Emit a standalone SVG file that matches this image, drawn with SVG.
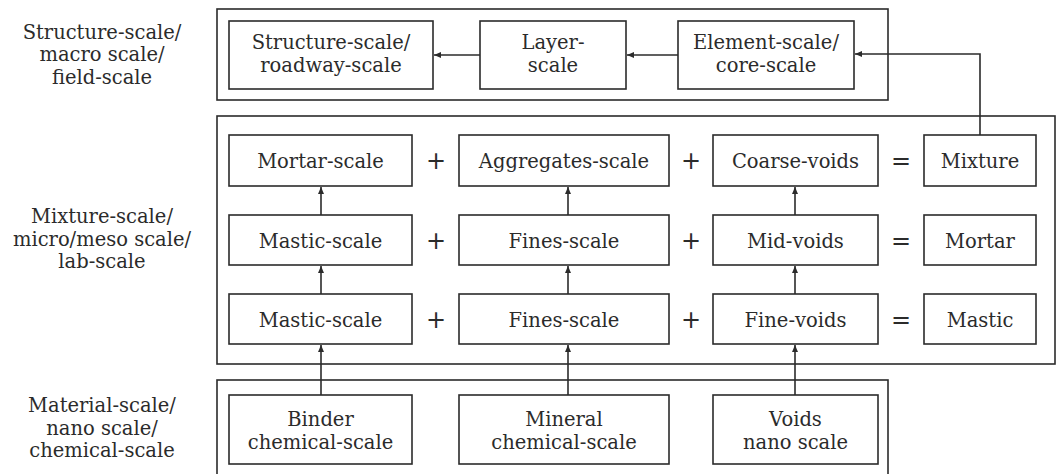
<svg xmlns="http://www.w3.org/2000/svg" width="1057" height="474" viewBox="0 0 1057 474">
<defs>
<marker id="ah" markerWidth="8" markerHeight="8" refX="7" refY="4" orient="auto" markerUnits="userSpaceOnUse">
<path d="M0,1 L7,4 L0,7 Z" fill="#2b2b2b"/>
</marker>
</defs>
<style>
.frame{fill:none;stroke:#2b2b2b;stroke-width:1.6}
.box{fill:#fff;stroke:#2b2b2b;stroke-width:1.6}
text{font-family:"DejaVu Serif","Liberation Serif",serif;font-size:19.5px;fill:#2b2b2b;text-anchor:middle}
.op{font-family:"DejaVu Sans","Liberation Sans",sans-serif;font-size:24px}
.conn{fill:none;stroke:#2b2b2b;stroke-width:1.6;marker-end:url(#ah)}
</style>
<rect width="1057" height="474" fill="#fff"/>
<g id="frames">
<rect class="frame" x="217" y="9" width="671" height="91"/>
<rect class="frame" x="217" y="116" width="838" height="248"/>
<rect class="frame" x="217" y="380" width="671" height="100"/>
</g>
<g id="scale-labels">
<text x="102" y="39">Structure-scale/</text>
<text x="102" y="61">macro scale/</text>
<text x="102" y="84">field-scale</text>
<text x="102" y="223">Mixture-scale/</text>
<text x="102" y="246">micro/meso scale/</text>
<text x="102" y="268">lab-scale</text>
<text x="102" y="412">Material-scale/</text>
<text x="102" y="435">nano scale/</text>
<text x="102" y="457">chemical-scale</text>
</g>
<g id="connectors">
<line class="conn" x1="480" y1="55" x2="434" y2="55"/>
<line class="conn" x1="678" y1="55" x2="627" y2="55"/>
<polyline class="conn" points="980,135 980,54 855,54"/>
<line class="conn" x1="321" y1="215" x2="321" y2="187"/>
<line class="conn" x1="568" y1="215" x2="568" y2="187"/>
<line class="conn" x1="795" y1="215" x2="795" y2="187"/>
<line class="conn" x1="321" y1="294" x2="321" y2="266"/>
<line class="conn" x1="568" y1="294" x2="568" y2="266"/>
<line class="conn" x1="795" y1="294" x2="795" y2="266"/>
<line class="conn" x1="321" y1="395" x2="321" y2="345"/>
<line class="conn" x1="568" y1="395" x2="568" y2="345"/>
<line class="conn" x1="795" y1="395" x2="795" y2="345"/>
</g>
<g id="n-structure"><rect class="box" x="229" y="21" width="204" height="68"/><text x="331" y="49">Structure-scale/</text><text x="331" y="72">roadway-scale</text></g>
<g id="n-layer"><rect class="box" x="480" y="21" width="146" height="68"/><text x="553" y="49">Layer-</text><text x="553" y="72">scale</text></g>
<g id="n-element"><rect class="box" x="678" y="21" width="176" height="68"/><text x="766" y="49">Element-scale/</text><text x="766" y="72">core-scale</text></g>

<g id="n-mortar-scale"><rect class="box" x="229" y="135" width="183" height="51"/><text x="320.5" y="168">Mortar-scale</text></g>
<g id="n-aggregates-scale"><rect class="box" x="459" y="135" width="210" height="51"/><text x="564" y="168">Aggregates-scale</text></g>
<g id="n-coarse-voids"><rect class="box" x="713" y="135" width="165" height="51"/><text x="795.5" y="168">Coarse-voids</text></g>
<g id="n-mixture"><rect class="box" x="924" y="135" width="112" height="51"/><text x="980" y="168">Mixture</text></g>

<g id="n-mastic-scale-1"><rect class="box" x="229" y="215" width="183" height="50"/><text x="320.5" y="248">Mastic-scale</text></g>
<g id="n-fines-scale-1"><rect class="box" x="459" y="215" width="210" height="50"/><text x="564" y="248">Fines-scale</text></g>
<g id="n-mid-voids"><rect class="box" x="713" y="215" width="165" height="50"/><text x="795.5" y="248">Mid-voids</text></g>
<g id="n-mortar"><rect class="box" x="924" y="215" width="112" height="50"/><text x="980" y="248">Mortar</text></g>

<g id="n-mastic-scale-2"><rect class="box" x="229" y="294" width="183" height="50"/><text x="320.5" y="327">Mastic-scale</text></g>
<g id="n-fines-scale-2"><rect class="box" x="459" y="294" width="210" height="50"/><text x="564" y="327">Fines-scale</text></g>
<g id="n-fine-voids"><rect class="box" x="713" y="294" width="165" height="50"/><text x="795.5" y="327">Fine-voids</text></g>
<g id="n-mastic"><rect class="box" x="924" y="294" width="112" height="50"/><text x="980" y="327">Mastic</text></g>

<g id="operators">
<text class="op" x="436" y="169">+</text>
<text class="op" x="691" y="169">+</text>
<text class="op" x="901" y="169">=</text>
<text class="op" x="436" y="249">+</text>
<text class="op" x="691" y="249">+</text>
<text class="op" x="901" y="249">=</text>
<text class="op" x="436" y="328">+</text>
<text class="op" x="691" y="328">+</text>
<text class="op" x="901" y="328">=</text>
</g>

<g id="n-binder"><rect class="box" x="229" y="395" width="183" height="69"/><text x="320.5" y="426">Binder</text><text x="320.5" y="449">chemical-scale</text></g>
<g id="n-mineral"><rect class="box" x="459" y="395" width="210" height="69"/><text x="564" y="426">Mineral</text><text x="564" y="449">chemical-scale</text></g>
<g id="n-voids"><rect class="box" x="713" y="395" width="165" height="69"/><text x="795.5" y="426">Voids</text><text x="795.5" y="449">nano scale</text></g>
</svg>
